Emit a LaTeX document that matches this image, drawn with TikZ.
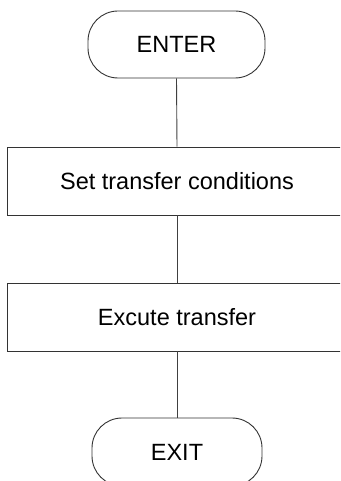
\documentclass[tikz,border=0pt]{standalone}
\usepackage{fontspec}
\setmainfont{Liberation Sans}
\begin{document}
\begin{tikzpicture}[x=1pt,y=1pt,
  lnk/.style={draw=black!75,line width=0.9pt},
  term/.style={draw=black!80,line width=0.9pt,rectangle,rounded corners=30pt,inner sep=0pt,font=\fontsize{23.5}{28}\selectfont},
  proc/.style={draw=black!80,line width=0.9pt,rectangle,inner sep=0pt,minimum width=340pt,minimum height=68pt,font=\fontsize{23.5}{28}\selectfont}]
\useasboundingbox (0,0) rectangle (340,-481);
\clip (0,0) rectangle (340,-481);
\node[term,minimum width=177pt,minimum height=67pt] (enter) at (176.5,-44.5) {ENTER};
\node[proc] (set) at (177,-181) {Set transfer conditions};
\node[proc] (exe) at (177,-317) {Excute transfer};
\node[term,minimum width=170pt,minimum height=68pt] (exit) at (177,-452) {EXIT};
\draw[lnk] (enter.south) -- (set.north);
\draw[lnk] (set.south) -- (exe.north);
\draw[lnk] (exe.south) -- (exit.north);
\end{tikzpicture}
\end{document}
